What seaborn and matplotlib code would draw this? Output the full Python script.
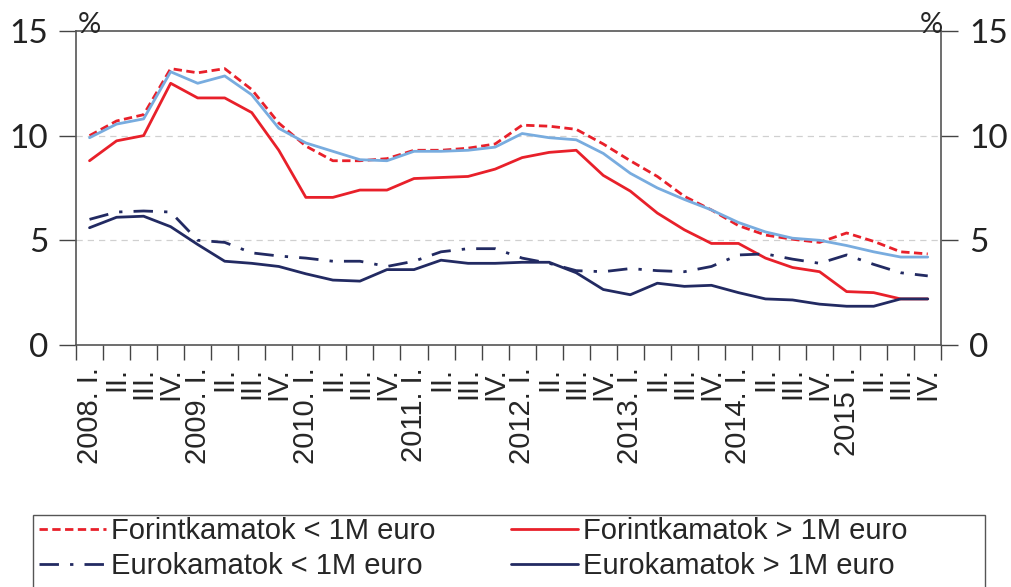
import matplotlib
matplotlib.use("Agg")
import matplotlib.pyplot as plt
from matplotlib.patches import Rectangle
import seaborn as sns
import pandas as pd
import numpy as np

# negyedéves adatok 2008 I. - 2015 IV.
evek = ["2008.", "2009.", "2010.", "2011.", "2012.", "2013.", "2014.", "2015"]
negyedevek = ["I.", "II.", "III.", "IV."]

forint_kicsi = [10.0, 10.7, 11.0, 13.2, 13.0, 13.2, 12.2, 10.6, 9.5, 8.8, 8.8, 8.9,
                9.3, 9.3, 9.4, 9.6, 10.5, 10.45, 10.3, 9.6, 8.8, 8.05, 7.1, 6.45,
                5.7, 5.25, 5.05, 4.9, 5.35, 4.95, 4.45, 4.35]
forint_nagy = [8.8, 9.75, 10.0, 12.5, 11.8, 11.8, 11.1, 9.3, 7.05, 7.05, 7.4, 7.4,
               7.95, 8.0, 8.05, 8.4, 8.95, 9.2, 9.3, 8.1, 7.35, 6.3, 5.5, 4.85,
               4.85, 4.15, 3.7, 3.5, 2.55, 2.5, 2.2, 2.2]
kek_vonal = [9.9, 10.55, 10.8, 13.05, 12.5, 12.85, 11.95, 10.35, 9.65, 9.25, 8.85, 8.8,
             9.25, 9.25, 9.3, 9.45, 10.1, 9.9, 9.8, 9.15, 8.2, 7.5, 6.95, 6.45,
             5.85, 5.4, 5.1, 5.0, 4.75, 4.45, 4.2, 4.2]
euro_kicsi = [6.0, 6.35, 6.4, 6.35, 5.0, 4.9, 4.4, 4.25, 4.15, 4.0, 4.0, 3.75,
              4.0, 4.45, 4.6, 4.6, 4.15, 3.9, 3.55, 3.5, 3.65, 3.55, 3.5, 3.75,
              4.3, 4.35, 4.1, 3.9, 4.3, 3.85, 3.45, 3.3]
euro_nagy = [5.6, 6.1, 6.15, 5.65, 4.8, 4.0, 3.9, 3.75, 3.4, 3.1, 3.05, 3.6,
             3.6, 4.05, 3.9, 3.9, 3.95, 3.95, 3.45, 2.65, 2.4, 2.95, 2.8, 2.85,
             2.5, 2.2, 2.15, 1.95, 1.85, 1.85, 2.2, 2.2]

cimkek = []
for ev in evek:
    for j, n in enumerate(negyedevek):
        cimkek.append(f"{ev} {n}" if j == 0 else n)

x = np.arange(len(cimkek))
df = pd.DataFrame({"x": x, "fk": forint_kicsi, "fn": forint_nagy, "kek": kek_vonal,
                   "ek": euro_kicsi, "en": euro_nagy})

sns.set_style("white")
piros = "#e8202a"
kek = "#78acdf"
sotet = "#222a62"

fig = plt.figure(figsize=(10.12, 5.87), dpi=100)
ax = fig.add_axes([0.0751, 0.4123, 0.855, 0.535])

sns.lineplot(data=df, x="x", y="fk", ax=ax, color=piros, lw=2.0,
             linestyle=(0, (3, 1.6)), label="Forintkamatok < 1M euro")
sns.lineplot(data=df, x="x", y="fn", ax=ax, color=piros, lw=2.0,
             label="Forintkamatok > 1M euro")
sns.lineplot(data=df, x="x", y="ek", ax=ax, color=sotet, lw=2.0,
             linestyle=(0, (7, 4, 1.2, 4)), label="Eurokamatok < 1M euro")
sns.lineplot(data=df, x="x", y="en", ax=ax, color=sotet, lw=2.0,
             label="Eurokamatok > 1M euro")
sns.lineplot(data=df, x="x", y="kek", ax=ax, color=kek, lw=2.0, legend=False)

ax.set_xlim(-0.5, len(x) - 0.5)
ax.set_ylim(0, 15)
ax.set_yticks([0, 5, 10, 15])
ax.set_xlabel("")
ax.set_ylabel("")

ax.set_xticks(x)
ax.set_xticklabels(cimkek, rotation=90, fontsize=21, family="Liberation Sans",
                   va="top", ha="center")
ax.set_xticks(np.arange(-0.5, len(x)), minor=True)
ax.tick_params(axis="x", which="major", length=0, pad=16)
ax.tick_params(axis="x", which="minor", length=11, width=1, color="#444444",
               direction="out", bottom=True)
ax.tick_params(axis="y", which="major", length=12, width=1, color="#444444",
               direction="out", left=True, right=True, labelleft=True,
               labelright=True, labelsize=24, pad=8)
for lab in ax.get_yticklabels():
    lab.set_family("Lato")
    lab.set_color("#222222")

for s in ax.spines.values():
    s.set_visible(True)
    s.set_color("#555555")
    s.set_linewidth(1.2)

for yv in (5, 10):
    ax.axhline(yv, color="#d0d0d0", lw=0.9, ls=(0, (5, 4)), zorder=0)

ax.text(0.002, 1.018, "%", transform=ax.transAxes, fontsize=21, ha="left",
        va="center", family="Lato")
ax.text(1.002, 1.018, "%", transform=ax.transAxes, fontsize=21, ha="right",
        va="center", family="Lato")

# jelmagyarázat: a keret alja kilóg a képből, mint az eredetin
ax.get_legend().remove()
h, l = ax.get_legend_handles_labels()
sorrend = [0, 2, 1, 3]
leg = fig.legend([h[i] for i in sorrend], [l[i] for i in sorrend],
                 loc="upper left", bbox_to_anchor=(0.036, 0.124),
                 ncol=2, frameon=False,
                 prop={"family": "Liberation Sans", "size": 21},
                 handlelength=2.3, handletextpad=0.15, columnspacing=2.6,
                 borderpad=0.1, labelspacing=0.25, borderaxespad=0)
fig.add_artist(Rectangle((33 / 1012, -0.05), (985 - 33) / 1012, 72 / 587 + 0.05,
                         transform=fig.transFigure, fill=False,
                         edgecolor="#555555", lw=1.0))

fig.savefig("out.png", dpi=100)
